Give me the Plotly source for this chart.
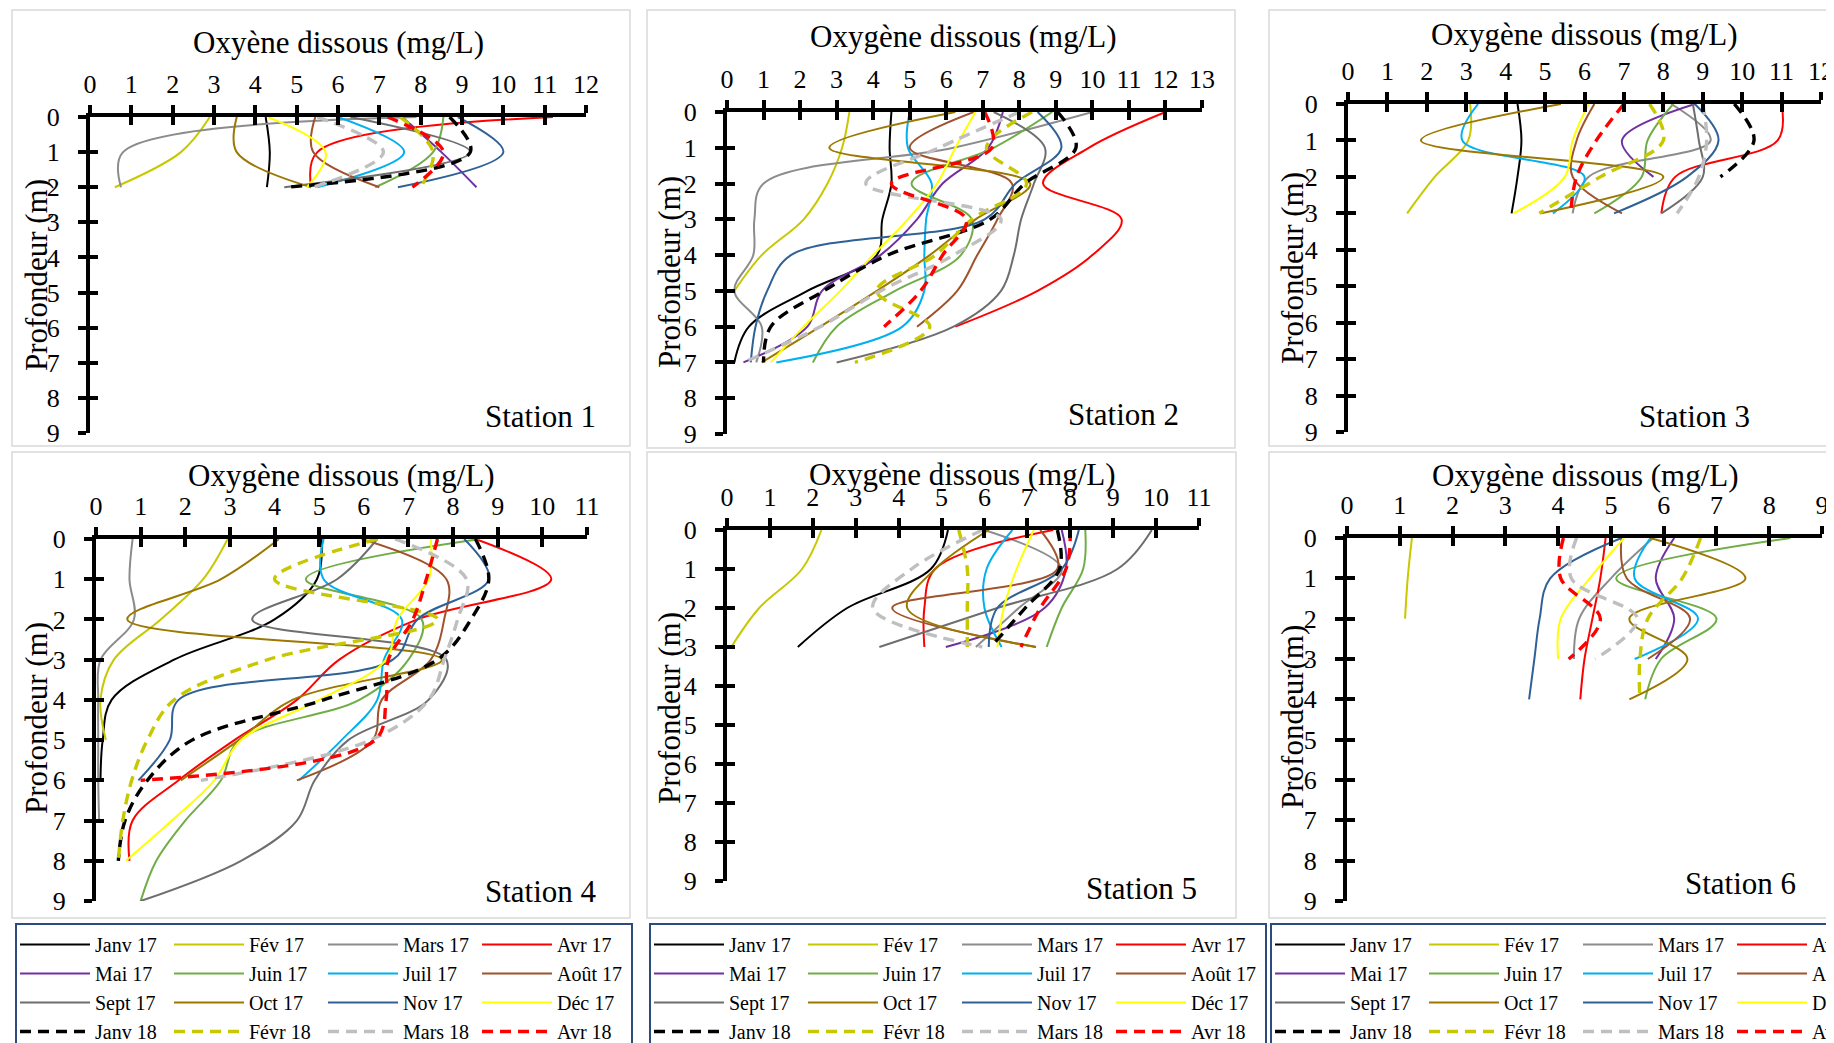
import plotly.graph_objects as go

FONT = "Liberation Serif, Times New Roman, serif"
W, H = 1834, 1043
OFF = 8  # the page body adds an 8 px margin around the figure

# ---------------- data ----------------
series_names = ["Janv 17", "Fév 17", "Mars 17", "Avr 17", "Mai 17", "Juin 17", "Juil 17", "Août 17",
                "Sept 17", "Oct 17", "Nov 17", "Déc 17", "Janv 18", "Févr 18", "Mars 18", "Avr 18"]
series_colors = ["#000000", "#C8C800", "#8C8C8C", "#FF0000", "#7030A0", "#70AD47", "#00B0F0", "#A0522D",
                 "#6E6E6E", "#9C7800", "#2F6096", "#FFFF00", "#000000", "#C8C800", "#BFBFBF", "#FF0000"]
series_dashed = [False] * 12 + [True] * 4

depth_m = [0, 1, 2, 3, 4, 5, 6, 7, 8, 9]

station1 = {
    "Janv 17": [4.25, 4.35, 4.28], "Fév 17": [2.9, 2.2, 0.6], "Mars 17": [7.9, 0.8, 0.75],
    "Avr 17": [11.2, 5.5, 5.35], "Mai 17": [7.55, 8.5, 9.35], "Juin 17": [8.55, 8.3, 6.9],
    "Juil 17": [6.0, 7.6, 5.5], "Août 17": [5.45, 5.4, 7.0], "Sept 17": [6.3, 9.2, 4.7],
    "Oct 17": [3.55, 3.55, 5.35], "Nov 17": [8.9, 10.0, 7.45], "Déc 17": [4.3, 5.7, 5.25],
    "Janv 18": [8.7, 9.2, 4.75], "Févr 18": [7.5, 8.3, 8.0], "Mars 18": [5.5, 7.1, 5.4],
    "Avr 18": [7.2, 8.55, 7.8],
}
station2 = {
    "Janv 17": [4.5, 4.45, 4.5, 4.25, 4.1, 2.2, 0.6, 0.2],
    "Fév 17": [3.35, 3.15, 2.75, 2.1, 0.95, 0.2],
    "Mars 17": [10.0, 6.2, 1.0, 0.75, 0.72, 0.2, 0.95, 0.8],
    "Avr 17": [12.0, 9.9, 8.65, 10.8, 10.0, 8.5, 6.25],
    "Mai 17": [7.55, 7.15, 5.9, 5.2, 4.2, 2.6, 2.2, 0.45],
    "Juin 17": [8.9, 7.3, 5.05, 6.7, 6.4, 4.6, 3.0, 2.35],
    "Juil 17": [5.0, 4.95, 5.6, 5.45, 5.4, 5.4, 4.8, 1.35],
    "Août 17": [6.75, 5.0, 7.8, 7.4, 6.85, 6.3, 5.2],
    "Sept 17": [7.3, 8.7, 8.4, 8.05, 7.85, 7.5, 6.2, 3.0],
    "Oct 17": [6.25, 2.8, 8.3, 6.8, 5.55, 4.1, 2.55, 0.95],
    "Nov 17": [8.5, 9.15, 7.9, 7.05, 1.75, 1.1, 0.78, 0.65],
    "Déc 17": [6.8, 6.25, 5.75, 4.95, 4.0, 3.1, 2.1, 1.2],
    "Janv 18": [9.05, 9.55, 8.15, 7.2, 4.4, 2.65, 1.2, 1.0],
    "Févr 18": [8.35, 7.1, 8.2, 6.7, 5.7, 4.1, 5.55, 3.5],
    "Mars 18": [8.0, 5.8, 3.8, 7.5, 6.2, 4.2, 2.55, 0.45],
    "Avr 18": [7.05, 7.25, 4.5, 6.55, 5.9, 5.3, 4.3],
}
station3 = {
    "Janv 17": [4.3, 4.4, 4.3, 4.15], "Fév 17": [3.1, 3.05, 2.2, 1.5],
    "Mars 17": [8.2, 9.2, 6.1, 5.7], "Avr 17": [11.0, 10.9, 8.3, 7.95],
    "Mai 17": [8.8, 6.95, 7.75], "Juin 17": [8.25, 7.6, 7.45, 6.25],
    "Juil 17": [3.3, 2.9, 6.0, 5.2], "Août 17": [6.25, 5.8, 5.7, 6.95],
    "Sept 17": [8.75, 8.9, 9.0, 7.95], "Oct 17": [5.4, 1.85, 8.0, 4.9],
    "Nov 17": [8.8, 9.4, 8.6, 6.75], "Déc 17": [6.1, 5.7, 5.5, 4.2],
    "Janv 18": [9.8, 10.3, 9.45], "Févr 18": [7.65, 8.0, 6.4, 4.85],
    "Mars 18": [9.0, 9.1, 8.9, 8.35], "Avr 18": [7.0, 6.3, 5.8, 5.65],
}
station4 = {
    "Janv 17": [5.05, 4.95, 4.0, 1.75, 0.35, 0.15, 0.1],
    "Fév 17": [2.95, 2.4, 1.45, 0.4, 0.1, 0.22],
    "Mars 17": [0.82, 0.75, 0.85, 0.1, 0.05, 0.05, 0.05, 0.07],
    "Avr 17": [8.5, 10.2, 7.2, 5.45, 4.5, 3.1, 1.85, 0.82, 0.75],
    "Juin 17": [8.6, 4.7, 7.3, 7.0, 5.9, 3.2, 2.8, 2.0, 1.35, 1.0],
    "Juil 17": [5.1, 5.1, 6.85, 6.45, 6.3, 5.5, 4.55],
    "Août 17": [5.95, 7.85, 7.8, 7.5, 6.4, 6.2, 4.5],
    "Sept 17": [6.3, 5.4, 3.5, 7.85, 7.45, 5.65, 4.9, 4.5, 3.25, 1.0],
    "Oct 17": [4.1, 2.8, 0.7, 7.75, 4.4, 3.2, 1.9],
    "Nov 17": [8.25, 8.8, 7.2, 6.65, 1.85, 1.65, 0.95],
    "Déc 17": [7.5, 7.45, 6.75, 6.5, 5.0, 3.25, 2.65, 1.7, 0.67],
    "Janv 18": [8.5, 8.8, 8.4, 7.65, 5.1, 2.15, 1.15, 0.65, 0.5],
    "Févr 18": [6.3, 4.0, 7.65, 3.85, 1.75, 1.15, 0.8, 0.6, 0.5],
    "Mars 18": [6.7, 8.3, 8.1, 7.8, 7.45, 6.15, 2.35],
    "Avr 18": [7.65, 7.4, 7.1, 6.55, 6.5, 6.25, 1.0],
}
station5 = {
    "Janv 17": [5.15, 4.75, 2.8, 1.65], "Fév 17": [2.2, 1.75, 0.75, 0.1],
    "Mars 17": [6.0, 7.8, 6.8, 5.8], "Avr 17": [7.6, 4.85, 4.6, 4.6],
    "Mai 17": [7.8, 7.9, 7.4, 5.1], "Juin 17": [8.35, 8.3, 7.8, 7.45],
    "Juil 17": [6.65, 6.05, 6.0, 6.4], "Août 17": [7.3, 7.7, 3.85, 7.2],
    "Sept 17": [9.9, 9.1, 6.3, 3.55], "Oct 17": [6.1, 4.85, 4.2, 7.2],
    "Nov 17": [8.2, 7.8, 6.3, 6.1], "Déc 17": [7.15, 6.75, 6.45, 6.3],
    "Janv 18": [7.7, 7.75, 6.95, 6.15], "Févr 18": [5.4, 5.6, 5.6, 5.6],
    "Mars 18": [5.95, 4.3, 3.4, 5.95], "Avr 18": [8.0, 7.9, 7.3, 6.85],
}
station6 = {
    "Fév 17": [1.23, 1.15, 1.1], "Mars 17": [5.8, 5.0, 4.4, 4.3],
    "Avr 17": [4.9, 4.8, 4.65, 4.5, 4.42], "Mai 17": [6.2, 5.85, 6.2, 5.85],
    "Juin 17": [8.4, 5.1, 7.0, 5.95, 5.65], "Juil 17": [5.75, 5.45, 6.65, 5.45],
    "Août 17": [5.2, 5.3, 6.5, 5.7], "Oct 17": [5.75, 7.55, 5.35, 6.45, 5.35],
    "Nov 17": [5.2, 3.85, 3.65, 3.55, 3.45], "Déc 17": [5.25, 4.6, 4.05, 4.0],
    "Févr 18": [6.7, 6.35, 5.7, 5.55, 5.55], "Mars 18": [4.35, 4.25, 5.5, 4.7],
    "Avr 18": [4.1, 4.05, 4.8, 4.2],
}
stations = [station1, station2, station3, station4, station5, station6]

x_max = [12, 13, 12, 11, 11, 9]
x_titles = ["Oxyène dissous (mg/L)"] + ["Oxygène dissous (mg/L)"] * 5
y_titles = ["Profondeur (m)"] * 5 + ["Profondeur(m)"]
station_labels = ["Station 1", "Station 2", "Station 3", "Station 4", "Station 5", "Station 6"]

# ---------------- geometry (page pixels of the reference) ----------------
panels = [
    dict(x0=90, x1=586, y0=117, y9=433, box=(12, 10, 630, 446), st=(540, 416), xt=(338, 43), yt=(36, 275)),
    dict(x0=727, x1=1202, y0=112, y9=434, box=(647, 10, 1235, 448), st=(1123, 414), xt=(964, 37), yt=(669, 272)),
    dict(x0=1348, x1=1821, y0=104, y9=432, box=(1269, 10, 1845, 446), st=(1694, 416), xt=(1584, 34), yt=(1292, 268)),
    dict(x0=96, x1=587, y0=539, y9=901, box=(12, 452, 630, 918), st=(541, 891), xt=(341, 475), yt=(36, 718)),
    dict(x0=727, x1=1199, y0=530, y9=881, box=(647, 452, 1236, 918), st=(1141, 888), xt=(963, 474), yt=(669, 708)),
    dict(x0=1347, x1=1822, y0=538, y9=901, box=(1269, 452, 1845, 918), st=(1740, 883), xt=(1585, 475), yt=(1292, 717)),
]
legend_ids = ["legend", "legend2", "legend3"]
legend_left = [15, 649, 1270]
legend_top = 923


def fx(px):
    return (px - OFF) / W


def fy(py):
    return 1 - (py - OFF) / H


def axid(letter, k):
    return letter if k == 1 else f"{letter}{k}"


def axkey(letter, k):
    return f"{letter}axis" if k == 1 else f"{letter}axis{k}"


fig = go.Figure()
layout = dict(
    width=W, height=H,
    margin=dict(l=0, r=0, t=0, b=0, autoexpand=False),
    paper_bgcolor="white", plot_bgcolor="rgba(0,0,0,0)",
    showlegend=True, hovermode=False,
)
shapes, annotations = [], []

tickfont = dict(family=FONT, size=26, color="black")
common = dict(showgrid=False, zeroline=False, tick0=0, dtick=1, tickmode="linear",
              tickcolor="black", tickwidth=3.5, ticklen=8, fixedrange=True)

for k, p in enumerate(panels, start=1):
    xd = [fx(p["x0"]), fx(p["x1"])]
    yd = [fy(p["y9"]), fy(p["y0"])]
    xr = [0, x_max[k - 1]]
    layout[axkey("x", k)] = dict(domain=xd, range=xr, side="top", anchor=axid("y", k),
                                 showline=True, linecolor="black", linewidth=4, ticks="outside",
                                 tickfont=tickfont, ticklabelstandoff=2, **common)
    layout[axkey("y", k)] = dict(domain=yd, range=[9, 0], side="left", anchor=axid("x", k),
                                 showline=True, linecolor="black", linewidth=4, ticks="outside",
                                 tickfont=tickfont, ticklabelstandoff=13, **common)
    # overlay axes giving the inner half of the crossing tick marks
    layout[axkey("x", k + 6)] = dict(overlaying=axid("x", k), range=xr, side="top", anchor=axid("y", k),
                                     ticks="inside", showticklabels=False, showline=False, **common)
    layout[axkey("y", k + 6)] = dict(overlaying=axid("y", k), range=[9, 0], side="left", anchor=axid("x", k),
                                     ticks="inside", showticklabels=False, showline=False, **common)
    fig.add_trace(go.Scatter(x=[None], y=[None], xaxis=axid("x", k + 6), yaxis=axid("y", k + 6),
                             showlegend=False, hoverinfo="skip"))

    st = stations[k - 1]
    for i, name in enumerate(series_names):
        vals = st.get(name)
        if vals is None:
            continue
        show = k <= 3
        dashed = series_dashed[i]
        kw = dict(legend=legend_ids[k - 1]) if show else {}
        fig.add_trace(go.Scatter(
            x=vals, y=depth_m[:len(vals)], mode="lines", name=name,
            line=dict(color=series_colors[i], width=3.4 if dashed else 2.0,
                      dash="11px,7px" if dashed else "solid", shape="spline", smoothing=1.0),
            xaxis=axid("x", k), yaxis=axid("y", k), showlegend=show,
            legendgroup=f"p{k}c{i % 4}", hoverinfo="skip", **kw))

    b = p["box"]
    shapes.append(dict(type="rect", xref="paper", yref="paper", x0=fx(b[0]), x1=fx(b[2]),
                       y0=fy(b[3]), y1=fy(b[1]), line=dict(color="#D9D9D9", width=1.5),
                       fillcolor="rgba(0,0,0,0)", layer="below"))
    annotations.append(dict(text=x_titles[k - 1], xref="paper", yref="paper", x=fx(p["xt"][0]),
                            y=fy(p["xt"][1]), xanchor="center", yanchor="middle", showarrow=False,
                            font=dict(family=FONT, size=31, color="black")))
    annotations.append(dict(text=y_titles[k - 1], xref="paper", yref="paper", x=fx(p["yt"][0]),
                            y=fy(p["yt"][1]), xanchor="center", yanchor="middle", showarrow=False,
                            textangle=-90, font=dict(family=FONT, size=31, color="black")))
    annotations.append(dict(text=station_labels[k - 1], xref="paper", yref="paper", x=fx(p["st"][0]),
                            y=fy(p["st"][1]), xanchor="center", yanchor="middle", showarrow=False,
                            font=dict(family=FONT, size=31, color="black")))

for j, lid in enumerate(legend_ids):
    layout[lid] = dict(x=fx(legend_left[j]), y=fy(legend_top), xanchor="left", yanchor="top",
                       orientation="h", traceorder="grouped", tracegroupgap=0,
                       bordercolor="#2E4B7E", borderwidth=2, bgcolor="white",
                       font=dict(family=FONT, size=20, color="black"),
                       itemwidth=70, entrywidth=69, entrywidthmode="pixels",
                       itemclick=False, itemdoubleclick=False)

layout["shapes"] = shapes
layout["annotations"] = annotations
fig.update_layout(**layout)
fig.write_html("out.html")
